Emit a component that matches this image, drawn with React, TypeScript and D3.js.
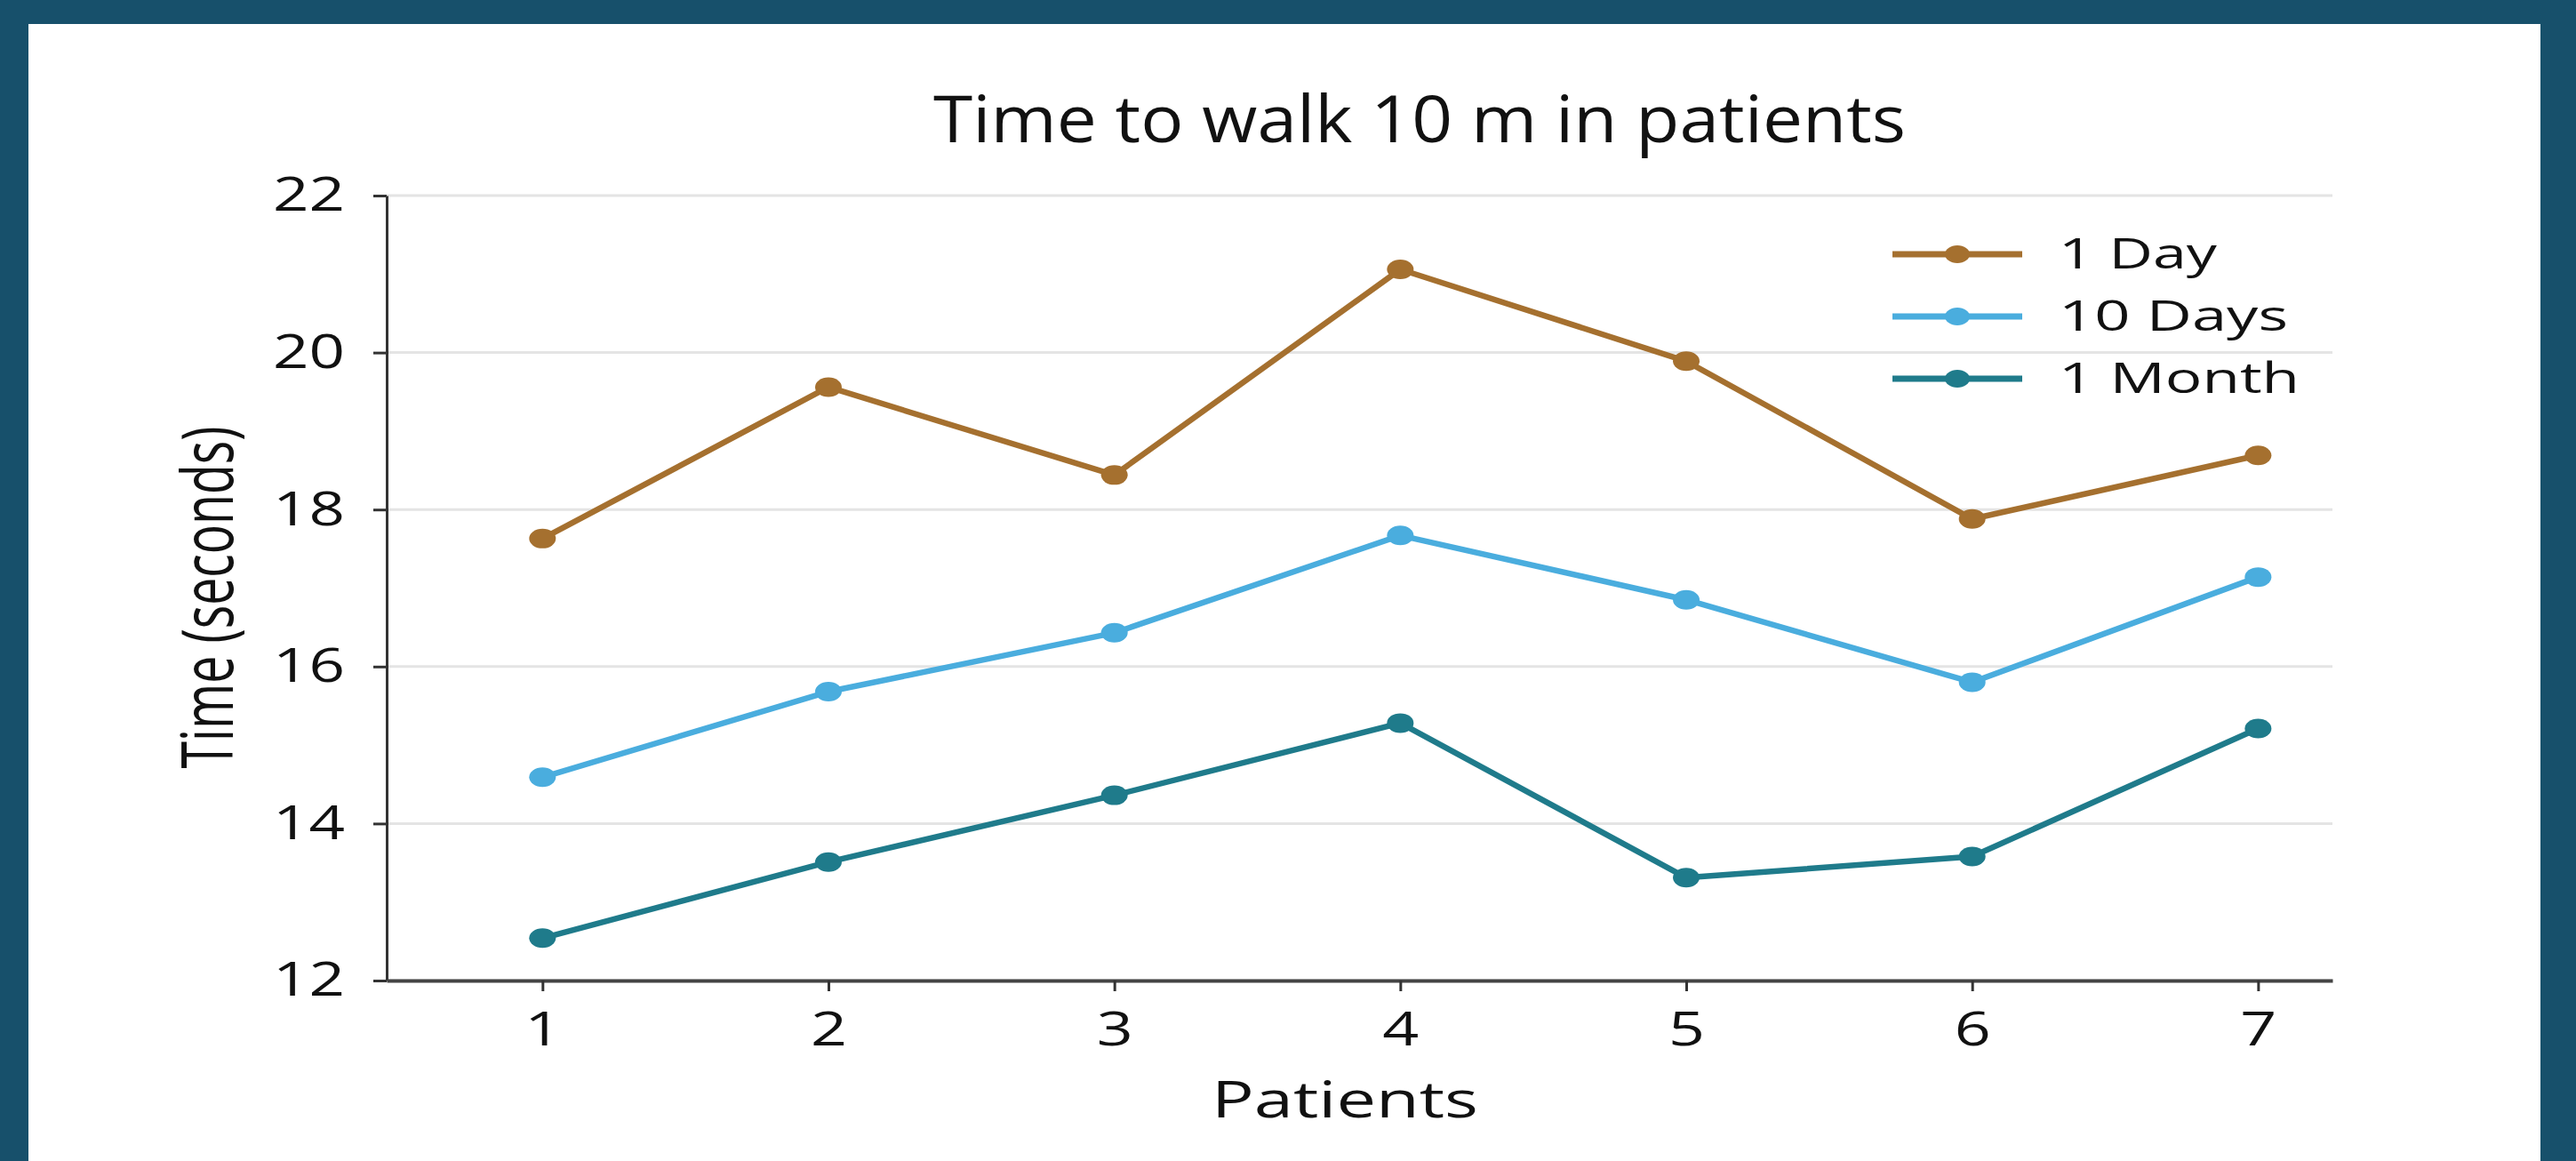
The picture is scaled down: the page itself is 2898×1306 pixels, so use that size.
import { useRef, useEffect } from 'react';
import * as d3 from 'd3';

const WIDTH = 2898;
const HEIGHT = 1306;
const PLOT = { left: 435, right: 2624, top: 220, bottom: 1103 };

const PATIENTS = [1, 2, 3, 4, 5, 6, 7];
const Y_TICKS = [12, 14, 16, 18, 20, 22];

const DAY_1 = [17.63, 19.56, 18.44, 21.06, 19.89, 17.88, 18.69];
const DAYS_10 = [14.59, 15.68, 16.43, 17.67, 16.85, 15.8, 17.14];
const MONTH_1 = [12.54, 13.51, 14.36, 15.28, 13.31, 13.58, 15.21];

const SERIES_NAMES = ['1 Day', '10 Days', '1 Month'];
const SERIES_VALUES = [DAY_1, DAYS_10, MONTH_1];
const SERIES_COLORS = ['#a5702f', '#4aadde', '#1f7b8b'];
const LEGEND_WIDTHS = [178, 258, 271];

const FONT = '"Open Sans", "Noto Sans", sans-serif';
const BG = '#17506b';

export default function App() {
  const svgRef = useRef<SVGSVGElement>(null);

  useEffect(() => {
    if (!svgRef.current) return;
    const svg = d3.select(svgRef.current);
    svg.selectAll('*').remove();

    // ── Frame ────────────────────────────────────────────────────────────
    svg.append('rect').attr('width', WIDTH).attr('height', HEIGHT).attr('fill', BG);
    svg.append('rect')
      .attr('x', 32).attr('y', 27)
      .attr('width', 2858 - 32).attr('height', HEIGHT - 27)
      .attr('fill', '#ffffff');

    // ── Scales ───────────────────────────────────────────────────────────
    const x = d3.scaleLinear().domain([0.455, 7.26]).range([PLOT.left, PLOT.right]);
    const y = d3.scaleLinear().domain([12, 22]).range([PLOT.bottom, PLOT.top]);

    // ── Grid ─────────────────────────────────────────────────────────────
    svg.append('g')
      .selectAll('line')
      .data(Y_TICKS)
      .join('line')
      .attr('x1', PLOT.left)
      .attr('x2', PLOT.right)
      .attr('y1', (d) => y(d))
      .attr('y2', (d) => y(d))
      .attr('stroke', '#e4e4e4')
      .attr('stroke-width', 3);

    // ── Axes ─────────────────────────────────────────────────────────────
    svg.append('g')
      .attr('transform', `translate(${PLOT.left},0)`)
      .call(
        d3.axisLeft(y).tickValues(Y_TICKS).tickSize(15).tickSizeOuter(0).tickPadding(32)
          .tickFormat((d) => String(d)),
      )
      .call((sel) => {
        sel.select('.domain').attr('stroke', '#333').attr('stroke-width', 3);
        sel.selectAll('.tick line').attr('stroke', '#333').attr('stroke-width', 3);
        sel.selectAll('.tick text')
          .attr('fill', '#111')
          .attr('font-size', 53)
          .attr('font-weight', 500)
          .attr('font-family', FONT)
          .attr('textLength', 81)
          .attr('lengthAdjust', 'spacingAndGlyphs');
      });

    svg.append('g')
      .attr('transform', `translate(0,${PLOT.bottom})`)
      .call(
        d3.axisBottom(x).tickValues(PATIENTS).tickSize(12).tickSizeOuter(0).tickPadding(23)
          .tickFormat((d) => String(d)),
      )
      .call((sel) => {
        sel.select('.domain').attr('stroke', '#444').attr('stroke-width', 4);
        sel.selectAll('.tick line').attr('stroke', '#333').attr('stroke-width', 3);
        sel.selectAll('.tick text')
          .attr('fill', '#111')
          .attr('font-size', 53)
          .attr('font-weight', 500)
          .attr('font-family', FONT)
          .attr('textLength', 41)
          .attr('lengthAdjust', 'spacingAndGlyphs');
      });

    // ── Titles ───────────────────────────────────────────────────────────
    svg.append('text')
      .attr('x', 1597).attr('y', 160)
      .attr('text-anchor', 'middle')
      .attr('font-size', 74)
      .attr('font-weight', 500)
      .attr('font-family', FONT)
      .attr('fill', '#111')
      .attr('textLength', 1094)
      .attr('lengthAdjust', 'spacingAndGlyphs')
      .text('Time to walk 10 m in patients');

    svg.append('text')
      .attr('x', 1513).attr('y', 1257)
      .attr('text-anchor', 'middle')
      .attr('font-size', 56)
      .attr('font-weight', 500)
      .attr('font-family', FONT)
      .attr('fill', '#111')
      .attr('textLength', 300)
      .attr('lengthAdjust', 'spacingAndGlyphs')
      .text('Patients');

    svg.append('text')
      .attr('transform', 'translate(262,672) rotate(-90)')
      .attr('text-anchor', 'middle')
      .attr('font-size', 80)
      .attr('font-family', FONT)
      .attr('fill', '#111')
      .attr('textLength', 385)
      .attr('lengthAdjust', 'spacingAndGlyphs')
      .text('Time (seconds)');

    // ── Lines + markers ──────────────────────────────────────────────────
    const line = d3.line<number>()
      .x((_, i) => x(PATIENTS[i]))
      .y((d) => y(d));

    SERIES_VALUES.forEach((values, s) => {
      const color = SERIES_COLORS[s];
      svg.append('path')
        .datum(values)
        .attr('fill', 'none')
        .attr('stroke', color)
        .attr('stroke-width', 6.5)
        .attr('stroke-linejoin', 'round')
        .attr('d', line);

      svg.append('g')
        .selectAll('ellipse')
        .data(values)
        .join('ellipse')
        .attr('cx', (_, i) => x(PATIENTS[i]))
        .attr('cy', (d) => y(d))
        .attr('rx', 15)
        .attr('ry', 11)
        .attr('fill', color);
    });

    // ── Legend ───────────────────────────────────────────────────────────
    const legend = svg.append('g').attr('transform', 'translate(2129,286)');
    SERIES_NAMES.forEach((name, s) => {
      const row = legend.append('g').attr('transform', `translate(0,${s * 70})`);
      row.append('line')
        .attr('x1', 0).attr('x2', 146)
        .attr('stroke', SERIES_COLORS[s])
        .attr('stroke-width', 7);
      row.append('ellipse')
        .attr('cx', 73)
        .attr('rx', 14).attr('ry', 10)
        .attr('fill', SERIES_COLORS[s]);
      row.append('text')
        .attr('x', 187)
        .attr('dy', '0.33em')
        .attr('font-size', 47)
        .attr('font-weight', 500)
        .attr('font-family', FONT)
        .attr('fill', '#111')
        .attr('textLength', LEGEND_WIDTHS[s])
        .attr('lengthAdjust', 'spacingAndGlyphs')
        .text(name);
    });
  }, []);

  return (
    <svg
      ref={svgRef}
      width={WIDTH}
      height={HEIGHT}
      style={{ position: 'absolute', left: 0, top: 0, display: 'block' }}
    />
  );
}
